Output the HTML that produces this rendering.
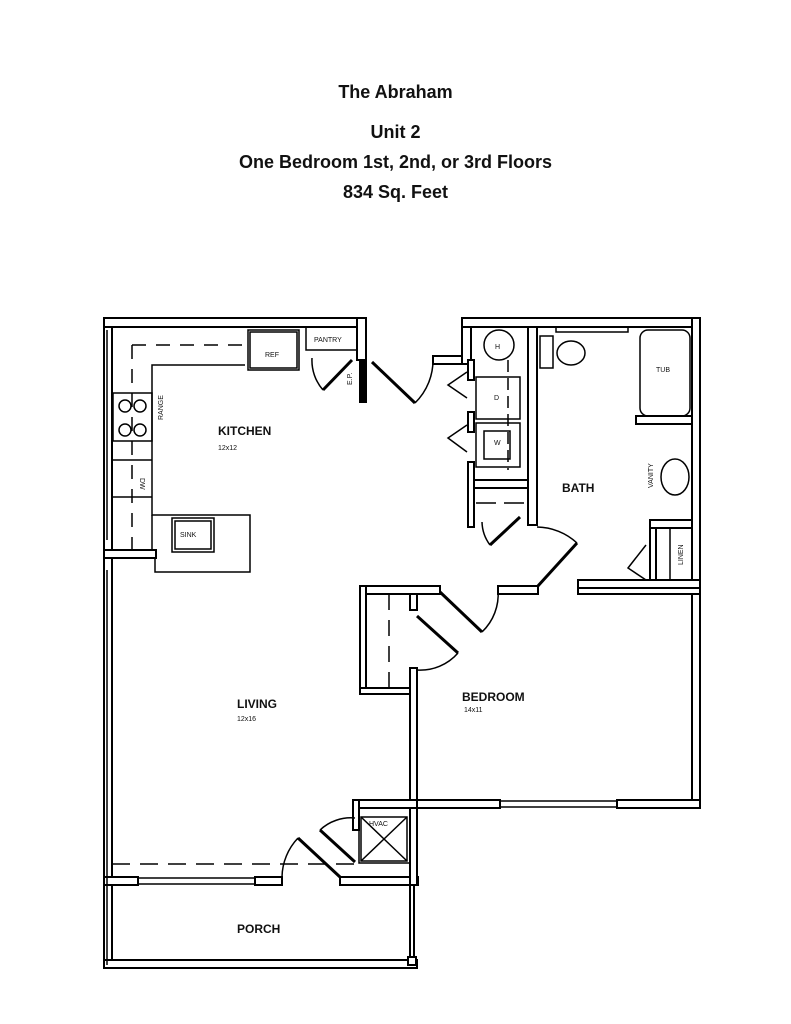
<!DOCTYPE html>
<html><head><meta charset="utf-8"><style>
html,body{margin:0;padding:0;background:#fff;}
body{width:791px;height:1024px;position:relative;overflow:hidden;font-family:"Liberation Sans",sans-serif;}
.t{position:absolute;left:0;width:791px;text-align:center;font-weight:bold;font-size:18px;color:#111;}
</style></head><body>
<div class="t" style="top:82px">The Abraham</div>
<div class="t" style="top:122px">Unit 2</div>
<div class="t" style="top:152px">One Bedroom 1st, 2nd, or 3rd Floors</div>
<div class="t" style="top:182px">834 Sq. Feet</div>
<svg width="791" height="1024" style="position:absolute;left:0;top:0" font-family="Liberation Sans, sans-serif">
<g fill="#fff" stroke="#000" stroke-width="2">
<rect x="104" y="318" width="8" height="650"/>
<rect x="104" y="318" width="262" height="9"/>
<rect x="357" y="318" width="9" height="42"/>
<rect x="360" y="362" width="6" height="40" fill="#000"/>
<rect x="433" y="356" width="38" height="8"/>
<rect x="462" y="318" width="9" height="46"/>
<rect x="462" y="318" width="238" height="9"/>
<rect x="692" y="318" width="8" height="490"/>
<rect x="468" y="360" width="6" height="20"/>
<rect x="468" y="412" width="6" height="20"/>
<rect x="468" y="462" width="6" height="65"/>
<rect x="474" y="480" width="56" height="8"/>
<rect x="528" y="327" width="9" height="198"/>
<rect x="578" y="580" width="122" height="8"/>
<rect x="498" y="586" width="40" height="8"/>
<rect x="578" y="588" width="122" height="6"/>
<rect x="360" y="586" width="80" height="8"/>
<rect x="360" y="586" width="6" height="108"/>
<rect x="360" y="688" width="57" height="6"/>
<rect x="410" y="594" width="7" height="16"/>
<rect x="410" y="668" width="7" height="140"/>
<rect x="410" y="800" width="90" height="8"/>
<rect x="617" y="800" width="83" height="8"/>
<rect x="636" y="416" width="56" height="8"/>
<rect x="650" y="520" width="42" height="8"/>
<rect x="650" y="528" width="6" height="52"/>
<rect x="104" y="550" width="52" height="8"/>
<rect x="104" y="877" width="34" height="8"/>
<rect x="255" y="877" width="27" height="8"/>
<rect x="340" y="877" width="78" height="8"/>
<rect x="353" y="800" width="64" height="8"/>
<rect x="353" y="800" width="6" height="30"/>
<rect x="410" y="808" width="7" height="77"/>
<rect x="104" y="960" width="313" height="8"/>
<rect x="410" y="885" width="4" height="77"/>
<rect x="408" y="957" width="8" height="8"/>
</g>
<g fill="none" stroke="#000" stroke-width="1.5">
<line x1="107" y1="330" x2="107" y2="540"/>
<line x1="107" y1="570" x2="107" y2="965"/>
<rect x="138" y="878" width="117" height="6"/>
<rect x="500" y="801" width="117" height="6"/>
<polyline points="245,365 152,365 152,515 250,515 250,572 155,572 155,558"/>
<line x1="152" y1="515" x2="152" y2="550"/>
<polyline points="132,345 245,345" stroke-dasharray="14,10"/>
<line x1="132" y1="345" x2="132" y2="550" stroke-dasharray="14,10"/>
<rect x="248" y="330" width="51" height="40"/>
<rect x="250" y="332" width="47" height="36"/>
<rect x="306" y="327" width="51" height="23"/>
<rect x="113" y="393" width="39" height="48"/>
<circle cx="125" cy="406" r="6"/><circle cx="140" cy="406" r="6"/>
<circle cx="125" cy="430" r="6"/><circle cx="140" cy="430" r="6"/>
<line x1="113" y1="460" x2="152" y2="460"/>
<line x1="113" y1="497" x2="152" y2="497"/>
<rect x="172" y="518" width="42" height="34"/>
<rect x="175" y="521" width="36" height="28"/>
<path d="M312,358 A45,45 0 0 0 323,390"/>
<line x1="323" y1="390" x2="352" y2="360" stroke-width="3"/>
<line x1="372" y1="362" x2="415" y2="403" stroke-width="3"/>
<path d="M415,403 A60,60 0 0 0 433,358"/>
<circle cx="499" cy="345" r="15"/>
<rect x="476" y="377" width="44" height="42"/>
<rect x="476" y="423" width="44" height="44"/>
<rect x="484" y="431" width="26" height="28"/>
<line x1="508" y1="360" x2="508" y2="470" stroke-dasharray="12,6"/>
<polyline points="467,372 448,385 467,398"/>
<polyline points="467,425 448,438 467,452"/>
<line x1="476" y1="503" x2="528" y2="503" stroke-dasharray="20,8"/>
<line x1="490" y1="545" x2="520" y2="517" stroke-width="3"/>
<path d="M482,522 A40,40 0 0 0 490,545"/>
<rect x="556" y="327" width="72" height="5"/>
<rect x="540" y="336" width="13" height="32"/>
<ellipse cx="571" cy="353" rx="14" ry="12"/>
<rect x="640" y="330" width="50" height="86" rx="8"/>
<ellipse cx="675" cy="477" rx="14" ry="18"/>
<line x1="670" y1="528" x2="670" y2="580"/>
<polyline points="646,545 628,568 646,580"/>
<line x1="537" y1="587" x2="577" y2="543" stroke-width="3"/>
<path d="M537,527 A60,60 0 0 1 577,543"/>
<line x1="440" y1="592" x2="482" y2="632" stroke-width="3"/>
<path d="M482,632 A52,52 0 0 0 498,590"/>
<line x1="417" y1="616" x2="458" y2="653" stroke-width="3"/>
<path d="M458,653 A50,50 0 0 1 417,670"/>
<line x1="389" y1="594" x2="389" y2="688" stroke-dasharray="16,10"/>
<line x1="112" y1="864" x2="355" y2="864" stroke-dasharray="18,10"/>
<line x1="298" y1="838" x2="340" y2="877" stroke-width="3"/>
<path d="M282,877 A58,58 0 0 1 298,838"/>
<line x1="320" y1="830" x2="355" y2="862" stroke-width="3"/>
<path d="M320,830 A45,45 0 0 1 355,818"/>
<rect x="359" y="808" width="51" height="55"/>
<rect x="361" y="817" width="46" height="44"/>
<line x1="361" y1="817" x2="407" y2="861"/><line x1="407" y1="817" x2="361" y2="861"/>
</g>
<g fill="#111" font-size="7">
<text x="314" y="342">PANTRY</text>
<text x="265" y="357">REF</text>
<text x="180" y="537">SINK</text>
<text x="163" y="420" transform="rotate(-90 163 420)">RANGE</text>
<text x="140" y="478" transform="rotate(90 140 478)">DW</text>
<text x="369" y="368" transform="rotate(-90 369 385)">E.P.</text>
<text x="495" y="349">H</text>
<text x="494" y="400">D</text>
<text x="494" y="445">W</text>
<text x="656" y="372">TUB</text>
<text x="653" y="488" transform="rotate(-90 653 488)">VANITY</text>
<text x="683" y="565" transform="rotate(-90 683 565)">LINEN</text>
<text x="369" y="826">HVAC</text>
<text x="218" y="450">12x12</text>
<text x="237" y="721">12x16</text>
<text x="464" y="712">14x11</text>
</g>
<g fill="#111" font-size="12" font-weight="bold">
<text x="218" y="435">KITCHEN</text>
<text x="237" y="708">LIVING</text>
<text x="562" y="492">BATH</text>
<text x="462" y="701">BEDROOM</text>
<text x="237" y="933">PORCH</text>
</g>
</svg>
</body></html>
